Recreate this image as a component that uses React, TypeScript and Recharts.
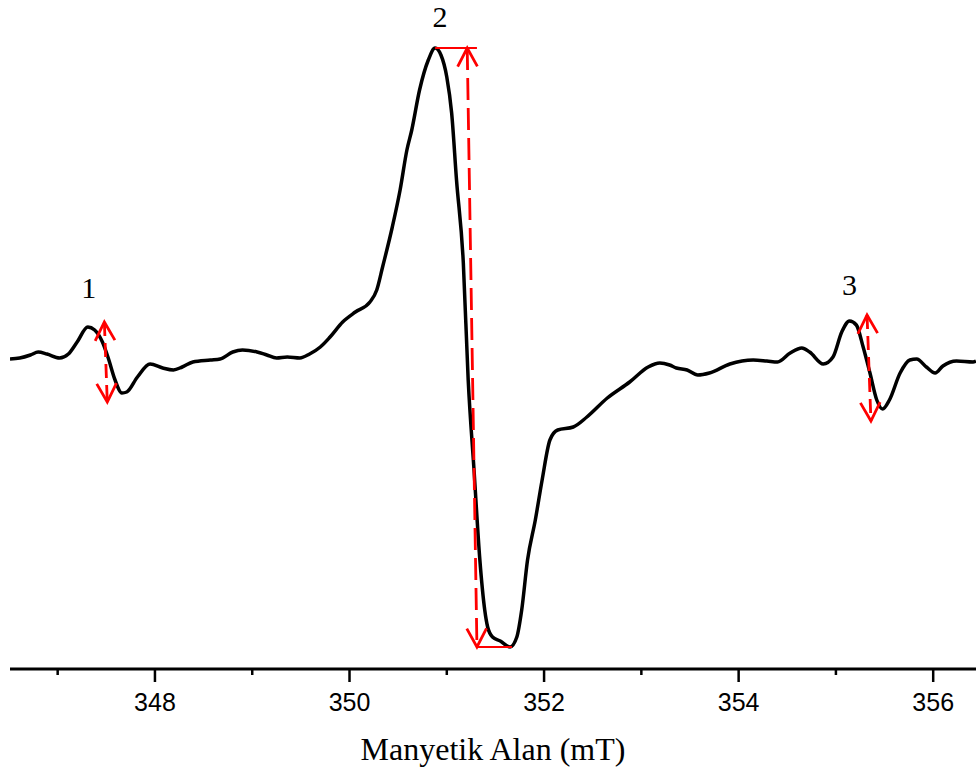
import React from 'react';
import { LineChart, Line, XAxis, YAxis, ReferenceLine, ReferenceDot } from 'recharts';

// Magnetic field (mT) and first-derivative EPR intensity (arbitrary units)
const fieldValues: number[] = [
  346.51, 346.61, 346.72, 346.80, 346.89, 347.02, 347.11, 347.20, 347.31, 347.38,
  347.46, 347.52, 347.59, 347.66, 347.71, 347.82, 347.95, 348.08, 348.19, 348.28,
  348.39, 348.57, 348.67, 348.80, 348.90, 349.05, 349.15, 349.25, 349.36, 349.49,
  349.59, 349.70, 349.80, 349.93, 350.06, 350.21, 350.28, 350.34, 350.44, 350.52,
  350.59, 350.64, 350.72, 350.81, 350.88, 350.94, 351.00, 351.05, 351.10, 351.17,
  351.22, 351.28, 351.34, 351.39, 351.42, 351.47, 351.55, 351.65, 351.72, 351.77,
  351.83, 351.91, 351.98, 352.06, 352.14, 352.30, 352.44, 352.65, 352.88, 353.07,
  353.19, 353.29, 353.36, 353.47, 353.58, 353.70, 353.91, 354.15, 354.29, 354.40,
  354.53, 354.65, 354.73, 354.87, 354.97, 355.06, 355.14, 355.21, 355.28, 355.35,
  355.42, 355.48, 355.55, 355.66, 355.76, 355.83, 355.93, 356.02, 356.10, 356.24,
  356.41, 356.44,
];

const intensityValues: number[] = [
  -1, 0, 3, 6, 4, 0, 4, 16, 31, 28,
  16, 0, -22, -35, -34, -19, -6, -10, -12, -9,
  -4, -2, -1, 6, 8, 6, 3, 0, 1, 0,
  4, 11, 21, 36, 46, 56, 68, 91, 131, 168,
  208, 228, 268, 298, 310, 303, 281, 245, 178, 95,
  -22, -112, -202, -252, -269, -279, -283, -289, -279, -252,
  -202, -162, -122, -82, -72, -69, -59, -40, -24, -9,
  -5, -7, -10, -12, -17, -15, -6, -2, -3, -4,
  5, 10, 6, -6, 1, 26, 37, 33, 11, -15,
  -42, -51, -42, -15, -2, -1, -9, -15, -8, -3,
  -4, -3,
];

const xTicks: number[] = [347, 348, 349, 350, 351, 352, 353, 354, 355, 356];
const majorTicks: number[] = [348, 350, 352, 354, 356];

// Peak-to-peak measurement arrows (field, intensity) for lines 1, 2 and 3
const arrowTops = [
  { field: 347.48, intensity: 36 },
  { field: 351.21, intensity: 310 },
  { field: 355.32, intensity: 43 },
];
const arrowBottoms = [
  { field: 347.51, intensity: -44 },
  { field: 351.31, intensity: -289 },
  { field: 355.36, intensity: -63 },
];

// Horizontal guides marking the maximum and minimum of line 2
const guideLines = [
  { from: 350.88, to: 351.31, intensity: 310 },
  { from: 351.31, to: 351.67, intensity: -289 },
];

// Line numbers placed over their low-field maxima
const peakLabels = ['1', '2', '3'];
const peakFields: number[] = [347.31, 350.88, 355.14];
const peakIntensities: number[] = [31, 310, 37];

const data = fieldValues.map((f, i) => ({ field: f, intensity: intensityValues[i] }));

const labelShift = [
  { dx: 1, dy: -29 },
  { dx: 5, dy: -21 },
  { dx: 0, dy: -26 },
];
const dashFor = ['14 7', '22 8', '14 7'];

const RED = '#ff0000';

const makeArrowShape = (dash: string) => (props: any) => {
  const { x1, y1, x2, y2 } = props;
  const ang = Math.atan2(y2 - y1, x2 - x1);
  const L = 21;
  const th = (28 * Math.PI) / 180;
  const arm = (px: number, py: number, a: number) => [
    [px + L * Math.cos(a + th), py + L * Math.sin(a + th)],
    [px + L * Math.cos(a - th), py + L * Math.sin(a - th)],
  ];
  const h1 = arm(x1, y1, ang);
  const h2 = arm(x2, y2, ang + Math.PI);
  return (
    <g>
      <line x1={x1} y1={y1} x2={x2} y2={y2} stroke={RED} strokeWidth={2.8} strokeDasharray={dash} />
      <polyline
        points={`${h1[0][0]},${h1[0][1]} ${x1},${y1} ${h1[1][0]},${h1[1][1]}`}
        fill="none"
        stroke={RED}
        strokeWidth={2.8}
      />
      <polyline
        points={`${h2[0][0]},${h2[0][1]} ${x2},${y2} ${h2[1][0]},${h2[1][1]}`}
        fill="none"
        stroke={RED}
        strokeWidth={2.8}
      />
    </g>
  );
};

const AxisTick = (props: any) => {
  const { x, y, payload } = props;
  const major = majorTicks.includes(payload.value);
  return (
    <g>
      <line x1={x} x2={x} y1={y} y2={y + (major ? 13 : 6)} stroke="#000" strokeWidth={2.5} />
      {major && (
        <text
          x={x}
          y={y + 42}
          textAnchor="middle"
          fontFamily="'Liberation Sans', Arial, sans-serif"
          fontSize={25}
          fill="#000"
        >
          {payload.value}
        </text>
      )}
    </g>
  );
};

export default function App() {
  return (
    <div style={{ position: 'absolute', left: 0, top: 0, background: '#fff' }}>
      <LineChart width={976} height={774} data={data} margin={{ top: 20, right: 0, left: 10, bottom: 0 }}>
        <XAxis
          dataKey="field"
          type="number"
          domain={[346.51, 356.44]}
          allowDataOverflow
          ticks={xTicks}
          interval={0}
          tickLine={false}
          tickSize={0}
          tickMargin={0}
          tick={<AxisTick />}
          axisLine={{ stroke: '#000', strokeWidth: 2.8 }}
          height={105}
          label={{
            value: 'Manyetik Alan (mT)',
            position: 'insideBottom',
            offset: 14,
            fontFamily: "'Liberation Serif', 'Times New Roman', serif",
            fontSize: 32,
            fill: '#000',
          }}
        />
        <YAxis hide type="number" domain={[-311, 338]} allowDataOverflow />
        <Line
          type="monotone"
          dataKey="intensity"
          stroke="#000"
          strokeWidth={3.5}
          strokeLinejoin="round"
          dot={false}
          isAnimationActive={false}
        />
        {guideLines.map((g, i) => (
          <ReferenceLine
            key={`g${i}`}
            segment={[
              { x: g.from, y: g.intensity },
              { x: g.to, y: g.intensity },
            ]}
            stroke={RED}
            strokeWidth={2}
          />
        ))}
        {arrowTops.map((t, i) => (
          <ReferenceLine
            key={`a${i}`}
            segment={[
              { x: t.field, y: t.intensity },
              { x: arrowBottoms[i].field, y: arrowBottoms[i].intensity },
            ]}
            shape={makeArrowShape(dashFor[i])}
          />
        ))}
        {peakLabels.map((txt, i) => (
          <ReferenceDot
            key={`p${i}`}
            x={peakFields[i]}
            y={peakIntensities[i]}
            r={1}
            shape={(p: any) => (
              <text
                x={p.cx + labelShift[i].dx}
                y={p.cy + labelShift[i].dy}
                textAnchor="middle"
                fontFamily="'Liberation Serif', 'Times New Roman', serif"
                fontSize={30}
                fill="#000"
              >
                {txt}
              </text>
            )}
          />
        ))}
      </LineChart>
    </div>
  );
}
